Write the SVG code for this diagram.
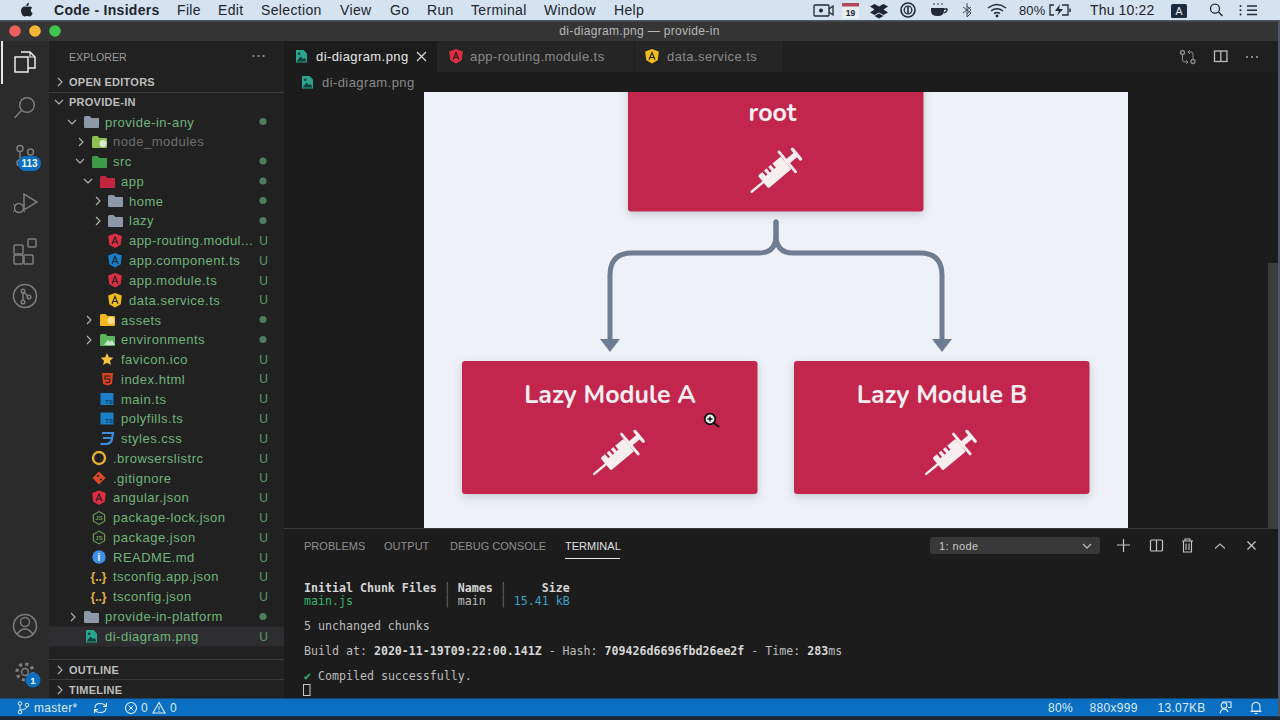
<svg xmlns="http://www.w3.org/2000/svg" width="1280" height="720" viewBox="0 0 1280 720">
<style>
text{font-family:"Liberation Sans",Arial,sans-serif}
.menu{font-size:14px;fill:#20242c;letter-spacing:.35px}
.tree{font-size:13px;fill:#70b47c;letter-spacing:.5px}
.u{font-size:12px;fill:#5f9a6c;font-weight:400;text-anchor:middle}
.sec{font-size:11px;font-weight:700;fill:#bdbdbd;letter-spacing:.25px}
.tab{font-size:13px;fill:#8a8a8a;letter-spacing:.42px}
.pt{font-size:11px;fill:#8f8f8f;letter-spacing:.02px}
.term{font-family:"DejaVu Sans Mono","Liberation Mono",monospace;font-size:11.62px;fill:#bdbdbd}
.term .b{font-weight:700;fill:#d6d6d6}
.term .p{fill:#666}
.term .g{fill:#2db56c}
.term .c{fill:#3ba0c4}
.st{font-size:12px;fill:#dcebf7;letter-spacing:.3px}
.ico{fill:none;stroke:#8c8c8c;stroke-width:1.3}
.act{fill:none;stroke:#7e7e7e;stroke-width:1.5}
.chev{fill:none;stroke:#b4b4b4;stroke-width:1.1}
.box{fill:#c2254e;filter:url(#sh)}
.lbl{font-family:"Nunito","Open Sans","Noto Sans",sans-serif;font-size:25px;font-weight:700;fill:#f6eef1;text-anchor:middle}
.conn{fill:none;stroke:#6f7d93;stroke-width:5;stroke-linecap:round}
.mb{fill:none;stroke:#222a35;stroke-width:1.3}
</style>
<defs>
<filter id="sh" x="-10%" y="-15%" width="120%" height="130%"><feDropShadow dx="0" dy="3" stdDeviation="4" flood-color="#5a6478" flood-opacity=".28"/></filter>
<marker id="arr" markerUnits="userSpaceOnUse" markerWidth="22" markerHeight="16" refX="11" refY="2" orient="0" viewBox="0 0 22 16"><path d="M1 1H21L11 14Z" fill="#6f7d93"/></marker>
<g id="syr">
<path d="M-31 0H-14" stroke="#f7eef0" stroke-width="2.4" stroke-linecap="round"/>
<rect x="-16" y="-8.2" width="30" height="16.400" rx="1.500" fill="#f7eef0"/>
<path d="M-9-9V-3M-3.500-9V-3M2-9V-3" stroke="#c2254e" stroke-width="2.200"/>
<path d="M15.500-13V13" stroke="#f7eef0" stroke-width="2.800" stroke-linecap="round"/>
<path d="M14 0H27" stroke="#f7eef0" stroke-width="5.500"/>
<path d="M27.500-6.500V6.500" stroke="#f7eef0" stroke-width="3.200" stroke-linecap="round"/>
</g>
<path id="ng" d="M0-7.5L6.8-5.1 5.7 3.8 0 7 -5.700 3.800 -6.800-5.100Z"/>
<g id="ngA"><use href="#ng"/><path d="M-3 3.200L0-4 3 3.200M-1.800 1H1.800" fill="none" stroke="#1f1f1f" stroke-width="1.100"/></g>
<path id="fold" d="M0 1.500Q0 0 1.500 0H5.500L7.500 2H14Q15 2 15 3V11Q15 12 14 12H1Q0 12 0 11Z"/>
<path id="ch-r" d="M0-4L4 0 0 4" class="chev"/>
<path id="ch-d" d="M-4-2L0 2 4-2" class="chev"/>
<g id="ts"><rect width="13" height="12" fill="#1a7ec9"/><text x="12.400" y="10.800" text-anchor="end" font-size="6" font-weight="700" fill="#0c3e66">TS</text></g>
<g id="js"><path d="M0-6.400L5.600-3.200V3.200L0 6.400-5.600 3.200V-3.200Z" fill="none" stroke="#6d9a59" stroke-width="1.200"/><text x="0" y="2.300" text-anchor="middle" font-size="6" font-weight="700" fill="#6d9a59">JS</text></g>
<g id="img"><path d="M0 0H7.500L11 3.500V12.500H0Z" fill="#2aa48f"/><path d="M1 11L4.500 6.500 7 9 8.500 8 10 10V11.500H1Z" fill="#143f3a"/><circle cx="3.200" cy="3.800" r="1.300" fill="#143f3a"/></g>
</defs>

<rect width="1280" height="720" fill="#1c1c1c"/>

<g id="menubar">
<rect width="1280" height="21" fill="#d5e2f0"/>
<path d="M27.500 6.400C28.500 5.200 29 4 29 2.800 27.600 3 26.200 4.300 26.200 5.800 26.300 6 27 6.400 27.500 6.400ZM30.800 10.200C30.800 8.800 32 8 32.300 7.800 31.400 6.600 30 6.400 29.600 6.400 28.600 6.400 27.800 7 27.200 7 26.600 7 25.800 6.400 24.900 6.400 22.600 6.400 21 8.500 21 10.800 21 13.600 23 16.500 24.600 16.500 25.500 16.500 26 15.900 27.100 15.900 28.200 15.900 28.600 16.500 29.600 16.500 31 16.500 32.200 14.400 32.600 13 31.700 12.600 30.800 11.600 30.800 10.200Z" fill="#20242c"/>
<text x="54" y="15" class="menu" style="font-weight:700;letter-spacing:.3px">Code - Insiders</text>
<text x="177" y="15" class="menu">File</text>
<text x="218" y="15" class="menu">Edit</text>
<text x="261" y="15" class="menu">Selection</text>
<text x="340" y="15" class="menu">View</text>
<text x="390" y="15" class="menu">Go</text>
<text x="427" y="15" class="menu">Run</text>
<text x="471" y="15" class="menu">Terminal</text>
<text x="544" y="15" class="menu">Window</text>
<text x="614" y="15" class="menu">Help</text>
<rect x="814" y="5" width="15" height="11" rx="1" class="mb"/><circle cx="821" cy="10.500" r="2" fill="#222a35"/><path d="M829 9L833 6V15L829 12" class="mb"/>
<rect x="842" y="3" width="17" height="16" fill="#e8edf2"/><rect x="842" y="3" width="17" height="3.500" fill="#b5495a"/><text x="850.500" y="15.500" text-anchor="middle" font-size="8.500" font-weight="700" fill="#20242c">19</text>
<path d="M870 6.500L874.500 4 879 6.500 883.500 4 888 6.500 883.500 9.500 888 12.500 883.500 15 879 12.500 874.500 15 870 12.500 874.500 9.500ZM874.500 16L879 13.500 883.500 16 879 18.500Z" fill="#1e2530"/>
<circle cx="908" cy="10" r="7" class="mb" style="stroke-width:1.600"/><circle cx="908" cy="10" r="3.800" class="mb"/><path d="M908 7V13" stroke="#222a35" stroke-width="1.600"/>
<path d="M931 8H944V11Q944 16 937.500 16 931 16 931 11Z" fill="#222a35"/><path d="M944 9H947Q948 11 944 13" class="mb"/><path d="M934 5V3M938 5V3M942 5V3" stroke="#222a35" stroke-width=".9"/>
<path d="M967 6L971 10 967 14M967 3V17L971 13 963 7M971 7L963 13" fill="none" stroke="#414a57" stroke-width="1"/>
<path d="M988 8Q997 1 1006 8M991 11Q997 6.500 1003 11M994 13.600Q997 11.500 1000 13.600" fill="none" stroke="#222a35" stroke-width="1.500"/><circle cx="997" cy="16" r="1.400" fill="#222a35"/>
<text x="1019" y="15" class="menu" style="font-size:13px;letter-spacing:.1px">80%</text>
<path d="M1054 5H1050V15H1054M1062 5H1068V15H1062" class="mb"/><path d="M1060 4L1055 11H1059L1057 16 1063 9H1059Z" fill="#222a35"/><path d="M1070 8.500V12" stroke="#222a35" stroke-width="1.500"/>
<text x="1090" y="15" class="menu" style="letter-spacing:.15px">Thu 10:22</text>
<rect x="1171" y="4" width="16" height="14" rx="1.500" fill="#1b2a3f"/><text x="1179" y="15.200" text-anchor="middle" font-size="10.500" fill="#e8edf3">A</text>
<circle cx="1215" cy="8.700" r="4.500" fill="none" stroke="#222a35" stroke-width="1.300"/><path d="M1218.500 12L1222.500 16" stroke="#222a35" stroke-width="1.500"/>
<path d="M1247 6H1257M1247 10.300H1257M1247 14.500H1257" stroke="#222a35" stroke-width="1.500"/><circle cx="1240.500" cy="6" r="1" fill="#222a35"/><circle cx="1240.500" cy="10.300" r="1" fill="#222a35"/><circle cx="1240.500" cy="14.500" r="1" fill="#222a35"/>
</g>

<rect x="0" y="21" width="1278" height="20" fill="#353535"/>
<rect x="0" y="20" width="1280" height="1.500" fill="#4f5965"/>
<circle cx="15" cy="31" r="5.800" fill="#ee5f5c"/><circle cx="35" cy="31" r="5.800" fill="#f5b53a"/><circle cx="55" cy="31" r="5.800" fill="#3fc74f"/>
<text x="639.500" y="35" text-anchor="middle" style="font-size:12px;fill:#b8b8b8;letter-spacing:.33px">di-diagram.png — provide-in</text>

<g id="activity">
<rect x="0" y="41" width="49" height="658" fill="#2b2b2b"/>
<rect x="1" y="41" width="2" height="43" fill="#e6e6e6"/>
<path d="M21 52H30L35 57V68H28" fill="none" stroke="#ececec" stroke-width="1.500"/><path d="M15 57H28V72H15Z" fill="#2b2b2b" stroke="#ececec" stroke-width="1.500"/><path d="M30 52V57H35" fill="none" stroke="#ececec" stroke-width="1.200"/>
<circle cx="27" cy="105" r="7.300" class="act"/><path d="M21.500 110.500L14.500 118" class="act"/>
<circle cx="20" cy="148.500" r="3" class="act"/><circle cx="30.500" cy="152" r="3" class="act"/><circle cx="20" cy="163" r="3" class="act"/><path d="M20 151.500V160" class="act"/>
<rect x="18" y="156" width="23" height="15" rx="7.500" fill="#0a6fc2"/><text x="29.500" y="167" text-anchor="middle" style="font-size:10px;font-weight:700;fill:#f2f6fa">113</text>
<path d="M24 194V210L37 202Z" class="act"/><circle cx="19" cy="208" r="4.500" class="act"/><path d="M13 204L16 206M13 212L16 210M22 206L25 204M22 210L25 212" class="act" style="stroke-width:1"/>
<rect x="14" y="245" width="9" height="9" rx="1" class="act"/><rect x="14" y="255" width="9" height="9" rx="1" class="act"/><rect x="24" y="255" width="9" height="9" rx="1" class="act"/><rect x="28" y="239" width="8" height="8" rx="1" class="act"/>
<circle cx="25" cy="296" r="11.500" class="act"/><circle cx="23" cy="291" r="1.800" class="act"/><circle cx="23" cy="302" r="1.800" class="act"/><circle cx="29" cy="297" r="1.800" class="act"/><path d="M23 293V300M24 292.500L28 296" class="act"/>
<circle cx="25" cy="626" r="11.500" class="act"/><circle cx="25" cy="622" r="4.500" class="act"/><path d="M17 634Q25 624 33 634" class="act"/>
<circle cx="25" cy="672" r="3.400" class="act"/><circle cx="25" cy="672" r="8" fill="none" stroke="#7e7e7e" stroke-width="3.200" stroke-dasharray="3 3.300"/>
<circle cx="33" cy="680" r="7.500" fill="#0a6fc2"/><text x="33" y="684" text-anchor="middle" style="font-size:9.500px;font-weight:700;fill:#f2f6fa">1</text>
</g>

<g id="sidebar">
<rect x="49" y="41" width="235" height="658" fill="#212121"/>
<text x="69" y="61" style="font-size:10.600px;fill:#9b9b9b">EXPLORER</text>
<path d="M252.500 56h2M257.500 56h2M262.500 56h2" stroke="#a8a8a8" stroke-width="1.400"/>
<use href="#ch-r" x="58" y="82"/><text x="69" y="86" class="sec">OPEN EDITORS</text>
<rect x="49" y="92" width="235" height="1" fill="#3a3a3a"/>
<use href="#ch-d" x="59" y="102"/><text x="69" y="106" class="sec">PROVIDE-IN</text>
<rect x="49" y="626.500" width="235" height="20" fill="#2d2d30"/>
<g>
<use href="#ch-d" x="72" y="122"/><use href="#fold" x="84" y="116" fill="#8d99a6"/><text x="105" y="126.500" class="tree">provide-in-any</text>
<use href="#ch-r" x="79" y="142"/><use href="#fold" x="92" y="136" fill="#8cc152"/><circle cx="103" cy="143.500" r="3.500" fill="#dbe8d2"/><text x="113" y="146" class="tree" style="fill:#6e6e6e">node_modules</text>
<use href="#ch-d" x="80" y="161"/><use href="#fold" x="92" y="156" fill="#3f9a45"/><text x="113" y="166" class="tree">src</text>
<use href="#ch-d" x="88" y="181"/><use href="#fold" x="100" y="176" fill="#c2263f"/><text x="121" y="186" class="tree">app</text>
<use href="#ch-r" x="96" y="201"/><use href="#fold" x="108" y="195" fill="#8d99a6"/><text x="129" y="205.500" class="tree">home</text>
<use href="#ch-r" x="96" y="221"/><use href="#fold" x="108" y="215" fill="#8d99a6"/><text x="129" y="225" class="tree">lazy</text>
<use href="#ngA" x="115" y="241" fill="#dd2e44"/><text x="129" y="245" class="tree" style="letter-spacing:.42px">app-routing.modul...</text>
<use href="#ngA" x="115" y="260.500" fill="#1a7ec9"/><text x="129" y="265" class="tree">app.component.ts</text>
<use href="#ngA" x="115" y="280.500" fill="#dd2e44"/><text x="129" y="285" class="tree">app.module.ts</text>
<use href="#ngA" x="115" y="300.500" fill="#f0bd1d"/><text x="129" y="304.500" class="tree">data.service.ts</text>
<use href="#ch-r" x="87" y="320"/><use href="#fold" x="100" y="314" fill="#f3b71e"/><circle cx="111" cy="320.500" r="3.500" fill="#f8e08a"/><text x="121" y="324.500" class="tree">assets</text>
<use href="#ch-r" x="87" y="340"/><use href="#fold" x="100" y="334" fill="#5cb45e"/><path d="M104 345L108 340 110 342 112 340 115 345Z" fill="#c8e6c9"/><text x="121" y="344" class="tree">environments</text>
<path d="M107 353L108.900 357.200 113.300 357.700 110 360.700 110.900 365 107 362.800 103.100 365 104 360.700 100.700 357.700 105.100 357.200Z" fill="#f5c542"/><text x="121" y="364" class="tree">favicon.ico</text>
<path d="M102 373H113L112 384 107.500 385.500 103 384Z" fill="#d9401f"/><path d="M110.500 376H105V379H110L109.500 382 107.500 382.700 105.500 382" fill="none" stroke="#1f1f1f" stroke-width="1.100"/><text x="121" y="383.500" class="tree">index.html</text>
<use href="#ts" x="100.500" y="393"/><text x="121" y="403.500" class="tree">main.ts</text>
<use href="#ts" x="100.500" y="412.500"/><text x="121" y="423" class="tree">polyfills.ts</text>
<path d="M102 433H113L112 439Q111 444 106 444H100.500M103 438H111.500" fill="none" stroke="#3c8fdc" stroke-width="2.200"/><text x="121" y="443" class="tree">styles.css</text>
<circle cx="99" cy="458" r="6" fill="none" stroke="#e9b02f" stroke-width="2.400"/><path d="M99 454Q96 458 99 462" fill="none" stroke="#1f1f1f" stroke-width="1.500"/><text x="113" y="462.500" class="tree">.browserslistrc</text>
<path d="M99 471.500L105.500 478 99 484.500 92.500 478Z" fill="#dc4a25"/><circle cx="98" cy="476" r="1.100" fill="#1f1f1f"/><circle cx="101" cy="479.500" r="1.100" fill="#1f1f1f"/><text x="113" y="482.500" class="tree">.gitignore</text>
<use href="#ngA" x="99" y="498" fill="#dd2e44"/><text x="113" y="502" class="tree">angular.json</text>
<use href="#js" x="99" y="518"/><text x="113" y="522" class="tree">package-lock.json</text>
<use href="#js" x="99" y="537.500"/><text x="113" y="541.500" class="tree">package.json</text>
<circle cx="99" cy="557" r="6.700" fill="#3f8fe8"/><text x="99" y="561" text-anchor="middle" style="font-size:10px;font-weight:700;fill:#f0f6fd">i</text><text x="113" y="561.500" class="tree">README.md</text>
<text x="90.500" y="581" style="font-size:12px;font-weight:700;fill:#e5b53f">{..}</text><text x="113" y="581" class="tree">tsconfig.app.json</text>
<text x="90.500" y="601" style="font-size:12px;font-weight:700;fill:#e5b53f">{..}</text><text x="113" y="601" class="tree">tsconfig.json</text>
<use href="#ch-r" x="71" y="617"/><use href="#fold" x="84" y="611" fill="#8d99a6"/><text x="105" y="621" class="tree">provide-in-platform</text>
<use href="#img" x="86" y="630"/><text x="105" y="641" class="tree">di-diagram.png</text>
</g>
<g fill="#4f7b5e"><circle cx="263" cy="121.500" r="3.600"/><circle cx="263" cy="161" r="3.600"/><circle cx="263" cy="181" r="3.600"/><circle cx="263" cy="200.500" r="3.600"/><circle cx="263" cy="220.500" r="3.600"/><circle cx="263" cy="319.500" r="3.600"/><circle cx="263" cy="339.500" r="3.600"/><circle cx="263" cy="616.500" r="3.600"/></g>
<g><text x="263.500" y="245" class="u">U</text><text x="263.500" y="264.500" class="u">U</text><text x="263.500" y="284.500" class="u">U</text><text x="263.500" y="304" class="u">U</text><text x="263.500" y="363.500" class="u">U</text><text x="263.500" y="383" class="u">U</text><text x="263.500" y="403" class="u">U</text><text x="263.500" y="423" class="u">U</text><text x="263.500" y="442.500" class="u">U</text><text x="263.500" y="462.500" class="u">U</text><text x="263.500" y="482" class="u">U</text><text x="263.500" y="502" class="u">U</text><text x="263.500" y="522" class="u">U</text><text x="263.500" y="541.500" class="u">U</text><text x="263.500" y="561.500" class="u">U</text><text x="263.500" y="581" class="u">U</text><text x="263.500" y="601" class="u">U</text><text x="263.500" y="640.500" class="u">U</text></g>
<rect x="49" y="659" width="235" height="1" fill="#3a3a3a"/><rect x="49" y="679" width="235" height="1" fill="#3a3a3a"/>
<use href="#ch-r" x="58" y="670"/><text x="69" y="673.500" class="sec">OUTLINE</text>
<use href="#ch-r" x="58" y="690"/><text x="69" y="693.500" class="sec">TIMELINE</text>
</g>

<g id="tabs">
<rect x="284" y="41" width="994" height="31" fill="#1f1f1f"/>
<rect x="437" y="41" width="197" height="31" fill="#252525"/><rect x="635" y="41" width="148" height="31" fill="#252525"/>
<rect x="284" y="41" width="153" height="31" fill="#1c1c1c"/>
<use href="#img" x="296" y="50"/><text x="316" y="61" class="tab" style="fill:#e6e6e6">di-diagram.png</text>
<path d="M417 52L426 61M426 52L417 61" stroke="#dcdcdc" stroke-width="1.200"/>
<use href="#ngA" x="456" y="56.500" fill="#dd2e44"/><text x="470" y="61" class="tab">app-routing.module.ts</text>
<use href="#ngA" x="652" y="56.500" fill="#f0bd1d"/><text x="667" y="61" class="tab">data.service.ts</text>
<circle cx="1182.500" cy="52.500" r="2" class="ico"/><circle cx="1193" cy="61.500" r="2" class="ico"/><path d="M1182.500 55V60Q1182.500 62 1185 62H1188M1186 60L1188 62 1186 64M1193 59V54Q1193 52 1191 52H1188M1190 50L1188 52 1190 54" class="ico" style="stroke-width:1"/>
<rect x="1214.500" y="51" width="12.500" height="10.500" class="ico" style="stroke:#bdbdbd"/><path d="M1220.800 51V61.500" class="ico" style="stroke:#bdbdbd"/>
<path d="M1246 57h2M1251 57h2M1256 57h2" stroke="#a8a8a8" stroke-width="1.400"/>
<use href="#img" x="302" y="76"/><text x="322" y="87" class="tab">di-diagram.png</text>
</g>

<rect id="canvas" x="424" y="92" width="704" height="436" fill="#eef1f7"/>

<g id="connectors">
<path class="conn" d="M776 222V235Q776 253 759 253H632Q610 253 610 275V340" marker-end="url(#arr)"/>
<path class="conn" d="M776 222V235Q776 253 793 253H920Q942 253 942 275V340" marker-end="url(#arr)"/>
</g>

<clipPath id="cv"><rect x="424" y="92" width="704" height="436"/></clipPath>
<g id="node-root" clip-path="url(#cv)">
<rect class="box" x="628" y="70" width="295.500" height="141.500" rx="3"/>
<text class="lbl" x="772.500" y="121">root</text>
<use href="#syr" transform="translate(775.400 171.800) rotate(-40)"/>
</g>
<g id="node-lazy-a">
<rect class="box" x="462" y="361" width="295.500" height="133" rx="3"/>
<text class="lbl" x="610" y="403">Lazy Module A</text>
<use href="#syr" transform="translate(618 454) rotate(-40)"/>
</g>
<g id="node-lazy-b">
<rect class="box" x="794" y="361" width="295.500" height="133" rx="3"/>
<text class="lbl" x="942" y="403">Lazy Module B</text>
<use href="#syr" transform="translate(950 454) rotate(-40)"/>
</g>
<g id="cursor"><circle cx="710" cy="419" r="5.300" fill="#f4f4f4" stroke="#111" stroke-width="1.800"/><path d="M707.500 419H712.500M710 416.500V421.500" stroke="#111" stroke-width="1.400"/><path d="M714 423L719 427" stroke="#111" stroke-width="2.200"/></g>

<rect x="1268" y="263" width="10" height="265" fill="#3d3d3d"/>
<rect x="1278" y="21" width="2" height="699" fill="#4f5965"/>

<g id="panel">
<rect x="284" y="528" width="994" height="171" fill="#1c1c1c"/>
<rect x="284" y="528" width="994" height="1" fill="#3a3a3a"/>
<text x="304" y="550" class="pt">PROBLEMS</text><text x="384" y="550" class="pt">OUTPUT</text><text x="450" y="550" class="pt">DEBUG CONSOLE</text><text x="565" y="550" class="pt" style="fill:#e0e0e0">TERMINAL</text>
<rect x="565" y="558" width="55" height="1" fill="#e6e6e6"/>
<rect x="930" y="537" width="170" height="17" rx="3" fill="#383838"/>
<text x="939" y="550" style="font-size:11px;fill:#c8c8c8;letter-spacing:.4px">1: node</text>
<path d="M1083 544L1087 548 1091 544" class="chev" style="stroke-width:1.300"/>
<path d="M1117 545H1130M1123.500 539V552" stroke="#c6c6c6" stroke-width="1.200"/>
<rect x="1150.500" y="540" width="12" height="11" rx="1" fill="none" stroke="#c6c6c6" stroke-width="1.200"/><path d="M1156.500 540V551" stroke="#c6c6c6" stroke-width="1.200"/>
<path d="M1182 541H1193M1185 541V539H1190V541M1183.500 541V552H1191.500V541M1186 543.500V550M1189 543.500V550" fill="none" stroke="#c6c6c6" stroke-width="1.100"/>
<path d="M1215 548.500L1220 544 1225 548.500" class="chev" style="stroke-width:1.200"/>
<path d="M1247.500 541.500L1255.500 549.500M1255.500 541.500L1247.500 549.500" stroke="#c6c6c6" stroke-width="1.200"/>
<text x="304" y="592" class="term" xml:space="preserve"><tspan class="b">Initial Chunk Files</tspan> <tspan class="p">|</tspan> <tspan class="b">Names</tspan> <tspan class="p">|</tspan>     <tspan class="b">Size</tspan></text>
<text x="304" y="605" class="term" xml:space="preserve"><tspan class="g">main.js</tspan>             <tspan class="p">|</tspan> main  <tspan class="p">|</tspan> <tspan class="c">15.41 kB</tspan></text>
<text x="304" y="630" class="term">5 unchanged chunks</text>
<text x="304" y="655" class="term" xml:space="preserve">Build at: <tspan class="b">2020-11-19T09:22:00.141Z</tspan> - Hash: <tspan class="b">709426d6696fbd26ee2f</tspan> - Time: <tspan class="b">283</tspan>ms</text>
<text x="304" y="680" class="term" xml:space="preserve"><tspan class="g">✔</tspan> Compiled successfully.</text>
<rect x="303.500" y="684.500" width="6.500" height="11" fill="none" stroke="#c8c8c8" stroke-width="1"/>
</g>

<g id="status">
<rect x="0" y="698.500" width="1278" height="18" fill="#0a6fc2"/>
<rect x="0" y="716.500" width="1280" height="3.500" fill="#1b2533"/>
<circle cx="20" cy="703.500" r="1.800" fill="none" stroke="#e2eef8" stroke-width="1"/><circle cx="20" cy="712" r="1.800" fill="none" stroke="#e2eef8" stroke-width="1"/><circle cx="27" cy="705" r="1.800" fill="none" stroke="#e2eef8" stroke-width="1"/><path d="M20 705V710M27 707Q27 709 21 710" fill="none" stroke="#e2eef8" stroke-width="1"/>
<text x="34" y="712" class="st">master*</text>
<path d="M95 708Q95 703.500 100 703.500 104 703.500 106 706M106 708Q106 712.500 100 712.500 96.500 712.500 95 710M106.500 703V706.500H103M94.500 713V709.500H98" fill="none" stroke="#e2eef8" stroke-width="1.100"/>
<circle cx="131" cy="708" r="5.500" fill="none" stroke="#e2eef8" stroke-width="1.100"/><path d="M128.500 705.500L133.500 710.500M133.500 705.500L128.500 710.500" stroke="#e2eef8" stroke-width="1"/>
<text x="141" y="712" class="st">0</text>
<path d="M159 702.500L165 713H153Z" fill="none" stroke="#e2eef8" stroke-width="1.100"/><path d="M159 706V710M159 711V712" stroke="#e2eef8" stroke-width="1"/>
<text x="170" y="712" class="st">0</text>
<text x="1048" y="712" class="st">80%</text><text x="1089.500" y="712" class="st">880x999</text><text x="1157.500" y="712" class="st">13.07KB</text>
<circle cx="1224" cy="705.500" r="2.800" fill="none" stroke="#e2eef8" stroke-width="1.100"/><path d="M1220 713.500Q1221 709 1224 709 1227 709 1228 712M1222 702H1231V707.500H1228" fill="none" stroke="#e2eef8" stroke-width="1.100"/>
<path d="M1252 711V706.500Q1252 702.500 1256 702.500 1260 702.500 1260 706.500V711ZM1250.500 711.500H1261.500M1254.500 713.500H1257.500" fill="none" stroke="#e2eef8" stroke-width="1.100"/>
</g>
</svg>
